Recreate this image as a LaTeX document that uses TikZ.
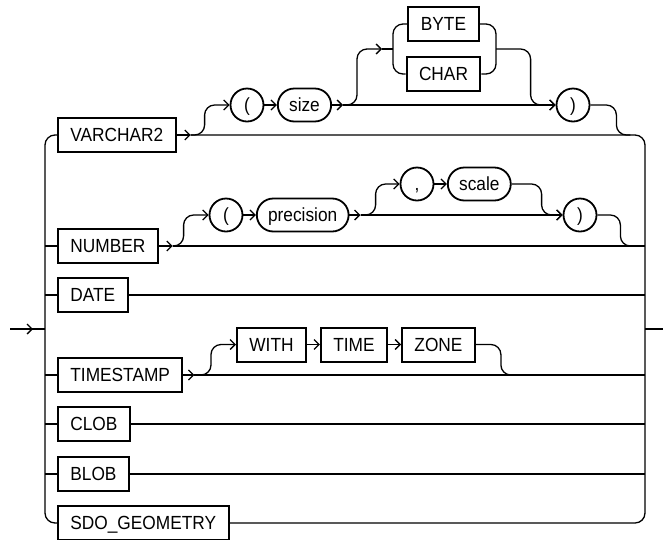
\documentclass[tikz,border=0pt]{standalone}
\usepackage{fontspec}
\setmainfont[FakeStretch=0.91]{Liberation Sans}
\usetikzlibrary{arrows.meta, positioning, calc}

\begin{document}
\begin{tikzpicture}[x=1pt, y=-1pt, >={Straight Barb[length=5pt,width=10pt]}, line width=1.3pt,
  rail/.style={rounded corners=10pt},
  keyword/.style={draw, rectangle, line width=2pt, minimum height=34pt, inner xsep=12.4pt, inner ysep=0pt, text height=13.6pt, text depth=0pt, font=\fontsize{19}{22}\selectfont},
  param/.style={draw, rectangle, rounded corners=16.5pt, line width=1.8pt, minimum height=33pt, inner xsep=11.3pt, inner ysep=0pt, text height=13.6pt, text depth=0pt, font=\fontsize{19}{22}\selectfont},
  symbol/.style={draw, circle, line width=1.8pt, minimum size=33pt, inner sep=0pt, text height=13.6pt, text depth=0pt, font=\fontsize{19}{22}\selectfont}]

  \useasboundingbox (0,0) rectangle (663,539);

  % left column of types
  \node [keyword, anchor=west] (varchar) at (57,135) {VARCHAR2};
  \node [keyword, anchor=west] (number) at (57,246) {NUMBER};
  \node [keyword, anchor=west] (date) at (57,295) {DATE};
  \node [keyword, anchor=west] (timestamp) at (57,375) {TIMESTAMP};
  \node [keyword, anchor=west] (clob) at (57,424) {CLOB};
  \node [keyword, anchor=west] (blob) at (57,474) {BLOB};
  \node [keyword, anchor=west] (sdo) at (57,523) {SDO\_GEOMETRY};

  \coordinate (L) at (45,329);
  \coordinate (R) at (645,329);
  \coordinate (entry) at (10,329);
  \coordinate (exit) at (663,329);

  % VARCHAR2 ( size [BYTE|CHAR] )
  \coordinate [right=14pt of varchar] (va);
  \node [symbol] (lpa) at (247,105) {(};
  \node [param, right=12.5pt of lpa] (size) {size};
  \coordinate [right=11pt of size] (sa);
  \coordinate (cl) at (393,49);
  \coordinate [left=11pt of cl] (cla);
  \node [keyword, minimum width=71pt, anchor=west] (byte) at (407,24) {BYTE};
  \node [keyword, minimum width=71pt, below=14pt of byte] (char) {CHAR};
  \coordinate (cr) at ($(byte.east |- cl)+(16,0)$);
  \node [symbol] (rpa) at (573,105) {)};

  % NUMBER ( precision [, scale] )
  \coordinate [right=14pt of number] (na);
  \node [symbol] (lpb) at (226,215) {(};
  \node [param, right=12.5pt of lpb] (precision) {precision};
  \coordinate [right=11pt of precision] (pa);
  \node [symbol] (comma) at (417,184) {,};
  \node [param, right=12.5pt of comma] (scale) {scale};
  \node [symbol] (rpb) at (580,215) {)};

  % TIMESTAMP [WITH TIME ZONE]
  \coordinate [right=11pt of timestamp] (ta);
  \node [keyword, anchor=west] (with) at (236,344.5) {WITH};
  \node [keyword, right=13pt of with] (time) {TIME};
  \node [keyword, right=13pt of time] (zone) {ZONE};

  % spines
  \draw [->] (entry) -- ($(L)+(-12,0)$);
  \draw (entry) -- (L);
  \draw [rail] (varchar) -| (L) |- (sdo);
  \draw [rail] (va) -| (R) |- (sdo);
  \draw (R) -- (exit);

  \draw [->] (varchar) -- (va);
  \draw [rail, ->] (va) -| ($(lpa.west)+(-25,0)$) -- (lpa.west);
  \draw [->] (lpa) -- (size);
  \draw [->] (size) -- (sa);
  \draw [->] (sa) -- (rpa);
  \draw [rail, ->] (sa) -| ($(cla)+(-25,0)$) -- (cla);
  \draw (cla) -- (cl);
  \draw [rail] (byte) -| (cl) |- (char);
  \draw [rail] (byte) -| (cr) |- (char);
  \draw [rail, ->] (cr) -| ($(rpa.west)+(-25,0)$) -- (rpa.west);
  \draw [rail] (rpa) -| ($(rpa.east |- va)+(26,0)$) -- ($(rpa.east |- va)+(40,0)$);

  \draw (L |- number) -- (number);
  \draw [->] (number) -- (na);
  \draw (na) -- (R |- na);
  \draw [rail, ->] (na) -| ($(lpb.west)+(-25,0)$) -- (lpb.west);
  \draw [->] (lpb) -- (precision);
  \draw [->] (precision) -- (pa);
  \draw [->] (pa) -- (rpb);
  \draw [rail, ->] (pa) -| ($(comma.west)+(-24,0)$) -- (comma.west);
  \draw [->] (comma) -- (scale);
  \draw [rail, ->] (scale) -| ($(rpb.west)+(-21,0)$) -- (rpb.west);
  \draw [rail] (rpb) -| ($(rpb.east |- na)+(23,0)$) -- ($(rpb.east |- na)+(36,0)$);

  \draw (L |- date) -- (date);
  \draw (date) -- (R |- date);

  \draw (L |- timestamp) -- (timestamp);
  \draw [->] (timestamp) -- (ta);
  \draw (ta) -- (R |- ta);
  \draw [rail, ->] (ta) -| ($(with.west)+(-25,0)$) -- (with.west);
  \draw [->] (with) -- (time);
  \draw [->] (time) -- (zone);
  \draw [rail] (zone) -| ($(zone.east |- ta)+(25,0)$) -- ($(zone.east |- ta)+(38,0)$);

  \draw (L |- clob) -- (clob);
  \draw (clob) -- (R |- clob);
  \draw (L |- blob) -- (blob);
  \draw (blob) -- (R |- blob);
\end{tikzpicture}
\end{document}
